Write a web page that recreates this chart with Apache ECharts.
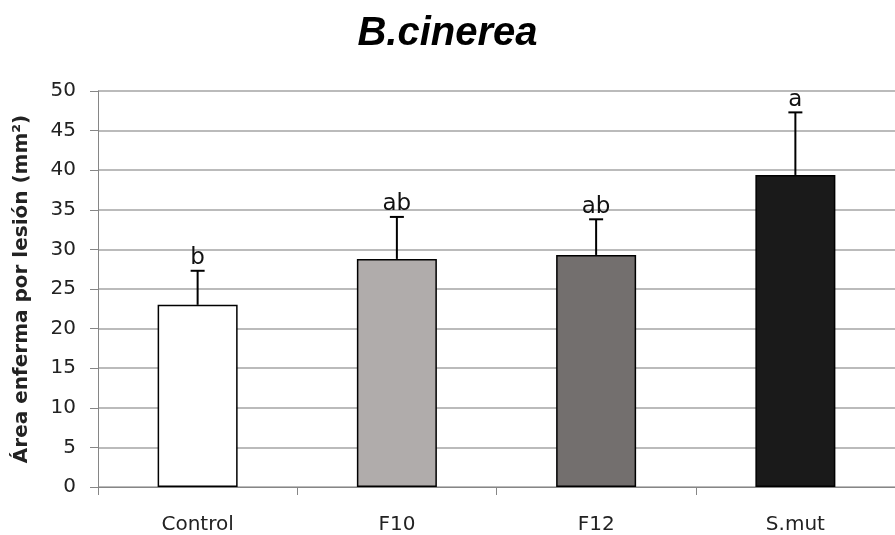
<!DOCTYPE html>
<html>
<head>
<meta charset="utf-8">
<script src="https://cdn.jsdelivr.net/npm/echarts@6/dist/echarts.min.js"></script>
<style>
  html, body { margin: 0; padding: 0; background: #ffffff; }
  #chart { width: 895px; height: 535px; }
</style>
</head>
<body>
<div id="chart"></div>
<script>
// Lesion area per treatment (mean, upper error) with significance letters
const categories = ['Control', 'F10', 'F12', 'S.mut'];
const means = [23.0, 28.8, 29.3, 39.4];
const errors = [4.3, 5.3, 4.5, 7.9];
const letters = ['b', 'ab', 'ab', 'a'];
const barColors = ['#ffffff', '#b0acab', '#736f6e', '#1a1a1a'];

const chart = echarts.init(document.getElementById('chart'));

const errorData = categories.map((c, i) => [i, means[i], errors[i]]);

function renderError(params, api) {
  const i = api.value(0);
  const m = api.value(1);
  const e = api.value(2);
  const base = api.coord([i, m]);
  const top = api.coord([i, m + e]);
  return {
    type: 'group',
    children: [
      { type: 'line', shape: { x1: base[0], y1: base[1], x2: top[0], y2: top[1] },
        style: { stroke: '#000000', lineWidth: 2 } },
      { type: 'line', shape: { x1: top[0] - 7, y1: top[1], x2: top[0] + 7, y2: top[1] },
        style: { stroke: '#000000', lineWidth: 2 } },
      { type: 'text', x: top[0], y: top[1] - 1,
        style: { text: letters[i], fill: '#111111', font: '23px "DejaVu Sans"',
                 align: 'center', verticalAlign: 'bottom' } }
    ]
  };
}

chart.setOption({
  animation: false,
  backgroundColor: '#ffffff',
  title: {
    text: 'B.cinerea',
    left: 'center',
    top: 9,
    textStyle: {
      fontFamily: 'Liberation Sans',
      fontStyle: 'italic',
      fontWeight: 'bold',
      fontSize: 40,
      color: '#000000'
    }
  },
  grid: { left: 98, right: -11, top: 91, bottom: 47 },
  xAxis: {
    type: 'category',
    data: categories,
    axisLine: { lineStyle: { color: '#868686', width: 1 } },
    axisTick: { show: true, length: 8, interval: 0, lineStyle: { color: '#868686' } },
    axisLabel: { margin: 28, fontFamily: 'DejaVu Sans', fontSize: 20, color: '#222222' }
  },
  yAxis: {
    type: 'value',
    min: 0,
    max: 50,
    interval: 5,
    name: 'Área enferma por lesión (mm²)',
    nameLocation: 'middle',
    nameGap: 66,
    nameTextStyle: { fontFamily: 'DejaVu Sans', fontWeight: 'bold', fontSize: 20, color: '#222222' },
    axisLine: { show: true, lineStyle: { color: '#868686', width: 1 } },
    axisTick: { show: true, length: 8, lineStyle: { color: '#868686' } },
    axisLabel: { margin: 22, fontFamily: 'DejaVu Sans', fontSize: 20, color: '#222222' },
    splitLine: { lineStyle: { color: '#a4a4a4', width: 1.5 } }
  },
  series: [
    {
      type: 'bar',
      barWidth: 80,
      data: means.map((v, i) => ({
        value: v,
        itemStyle: { color: barColors[i], borderColor: '#000000', borderWidth: 1.5 }
      })),
      z: 2
    },
    {
      type: 'custom',
      renderItem: renderError,
      data: errorData,
      encode: { x: 0, y: 1 },
      z: 3
    }
  ]
});
</script>
</body>
</html>
